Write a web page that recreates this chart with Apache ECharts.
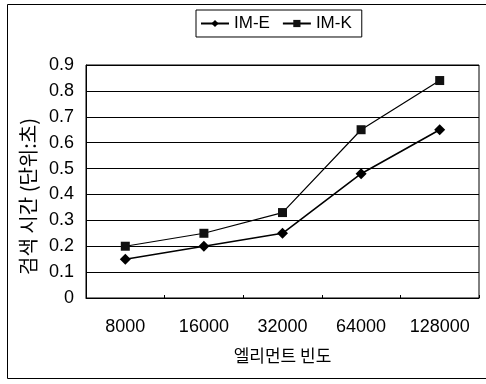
<!DOCTYPE html>
<html><head><meta charset="utf-8">
<script src="https://cdn.jsdelivr.net/npm/echarts@6/dist/echarts.min.js"></script>
<style>html,body{margin:0;padding:0;background:#fff}#c{width:486px;height:384px}</style>
</head><body><div id="c"></div>
<script>
const categories = ['8000', '16000', '32000', '64000', '128000'];
const imE = [0.15, 0.20, 0.25, 0.48, 0.65];
const imK = [0.20, 0.25, 0.33, 0.65, 0.84];
const yTicks = { min: 0, max: 0.9, interval: 0.1 };
const font = '"Liberation Sans", Arial, "Noto Sans CJK KR", sans-serif';
const kfont = '"Noto Sans CJK KR", sans-serif';
const chart = echarts.init(document.getElementById('c'), null, { renderer: 'canvas' });
chart.setOption({
  animation: false,
  backgroundColor: '#fff',
  textStyle: { fontFamily: font, color: '#000' },
  graphic: [{
    type: 'rect', shape: { x: 7.5, y: 4.5, width: 486, height: 374 },
    style: { fill: 'none', stroke: '#000', lineWidth: 1 }, silent: true
  }],
  legend: {
    left: 196, top: 10,
    data: ['IM-E', 'IM-K'],
    itemWidth: 28, itemHeight: 9, itemGap: 12,
    padding: [5, 10, 5, 4],
    borderColor: '#000', borderWidth: 1,
    textStyle: { fontSize: 17, color: '#000', fontFamily: font }
  },
  grid: { left: 86, right: 7, top: 65, bottom: 86, show: true, borderColor: '#000', borderWidth: 1 },
  xAxis: {
    type: 'category', data: categories, boundaryGap: true,
    axisLine: { lineStyle: { color: '#000', width: 1 } },
    axisTick: { show: true, inside: true, length: 3, lineStyle: { color: '#000' } },
    axisLabel: { fontSize: 18, color: '#000', margin: 20, fontFamily: font },
    name: '엘리먼트 빈도', nameLocation: 'middle', nameGap: 49,
    nameTextStyle: { fontSize: 17, color: '#000', fontFamily: kfont }
  },
  yAxis: {
    type: 'value', min: yTicks.min, max: yTicks.max, interval: yTicks.interval,
    axisLine: { show: true, lineStyle: { color: '#000', width: 1 } },
    axisTick: { show: false },
    splitLine: { lineStyle: { color: '#000', width: 1 } },
    axisLabel: { fontSize: 18, color: '#000', margin: 12, fontFamily: font,
      formatter: v => (v === 0 ? '0' : v.toFixed(1)) },
    name: '검색 시간 (단위:초)', nameLocation: 'middle', nameGap: 41,
    nameTextStyle: { fontSize: 20, color: '#000', fontFamily: kfont, padding: [0, 30, 0, 0] }
  },
  series: [
    { name: 'IM-E', type: 'line', data: imE, symbol: 'diamond', symbolSize: 11,
      lineStyle: { color: '#000', width: 1.6 }, itemStyle: { color: '#000' } },
    { name: 'IM-K', type: 'line', data: imK, symbol: 'rect', symbolSize: 9,
      lineStyle: { color: '#000', width: 1.2 }, itemStyle: { color: '#111' } }
  ]
});
</script></body></html>
